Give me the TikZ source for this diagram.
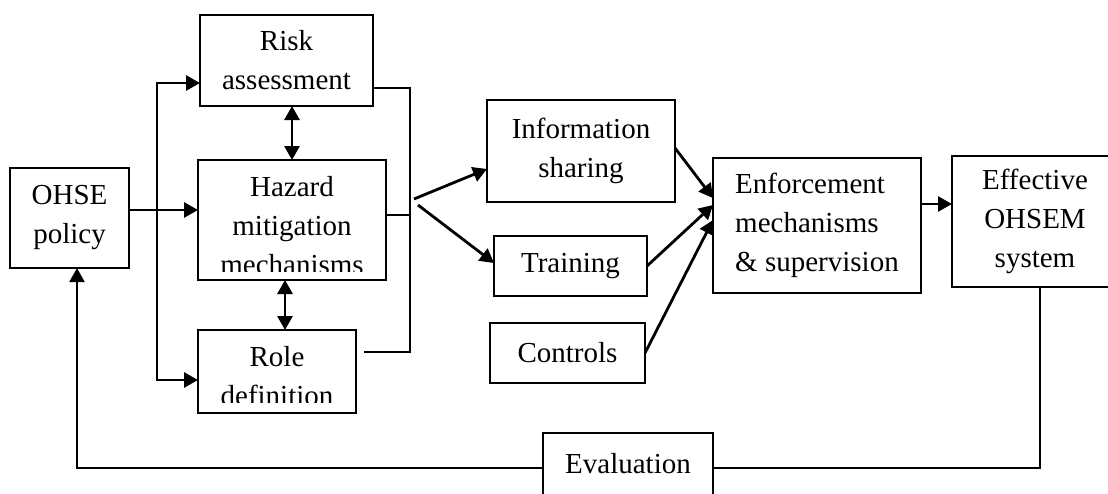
\documentclass[tikz,border=0pt]{standalone}
\usepackage{fontspec}
\setmainfont{Liberation Serif}
\usetikzlibrary{arrows.meta}

\tikzset{
  box/.style={draw, line width=1pt, align=center, inner sep=0pt, outer sep=0pt,
    font=\fontsize{14.5}{19.5}\selectfont},
  link/.style={line width=1pt},
  arr/.style={line width=1.4pt, ->},
  biarr/.style={line width=1.4pt, <->},
}

\begin{document}
\begin{tikzpicture}[x=0.5pt, y=-0.5pt, >={Triangle[length=7pt,width=7.5pt]}]
    \clip (0,0) rectangle (1108,493);
    % left column
    \node[box, minimum width=59.5pt, minimum height=50pt] (pol) at (69.5,218) {OHSE\\policy};
    \node[box, minimum width=86.5pt, minimum height=45.5pt] (risk) at (286.5,60.5) {Risk\\assessment};
    \begin{scope}
      \clip (190,150) rectangle (400,271.5);
      \node[box, draw=none, minimum width=94pt, minimum height=60pt] (haz) at (292,220) {\rule{0pt}{16pt}Hazard\\mitigation\\mechanisms};
    \end{scope}
    \draw[link] (haz.south west) rectangle (haz.north east);
    \begin{scope}
      \clip (190,320) rectangle (370,402);
      \node[box, draw=none, minimum width=79pt, minimum height=41.5pt] (role) at (277,371.5) {\rule{0pt}{15pt}Role\\definition};
    \end{scope}
    \draw[link] (role.south west) rectangle (role.north east);
    % middle column
    \node[box, minimum width=94pt, minimum height=51pt] (info) at (581,151) {Information\\sharing};
    \node[box, minimum width=76.5pt, minimum height=30pt] (train) at (570.5,266) {Training};
    \node[box, minimum width=77.5pt, minimum height=30pt] (ctrl) at (567.5,353) {Controls};
    % right column
    \node[box, align=left, minimum width=104pt, minimum height=67.5pt] (enf) at (817,225.5) {Enforcement\\mechanisms\\\& supervision};
    \node[box, minimum width=83pt, minimum height=65.5pt] (eff) at (1035,221.5) {Effective\\OHSEM\\system};
    \node[box, minimum width=85pt, minimum height=31pt] (eval) at (628,464) {Evaluation};

    % policy to the three tasks
    \draw[arr] (pol.east |- 0,210) -- (haz.west |- 0,210);
    \draw[biarr] (risk.west |- 0,83) -- (157,83) -- (157,380) -- (role.west |- 0,380);
    \draw[biarr] (risk.south -| haz.north) -- (haz.north);
    \draw[biarr] (haz.south -| 285,0) -- (role.north -| 285,0);

    % bracket and split
    \coordinate (rolegap) at ([xshift=4pt]role.east);
    \draw[link] (risk.east |- 0,88) -| (410,352) -- (rolegap |- 0,352);
    \draw[link] (haz.east |- 0,215) -- (410,215);
    \coordinate (outA) at (414,199);
    \coordinate (outB) at (418,205);
    \draw[arr] (outA) -- (info.west |- 0,169);
    \draw[arr] (outB) -- (train.west |- 0,263);

    % into enforcement
    \draw[arr] (info.east |- 0,148) -- (enf.west |- 0,198);
    \draw[arr] (train.east) -- (enf.west |- 0,205);
    \draw[arr] (ctrl.east) -- (enf.west |- 0,220);
    \draw[arr] (enf.east |- 0,204) -- (eff.west |- 0,204);

    % feedback loop
    \draw[link] (eff.south -| 1040,0) |- (eval.east |- 0,468);
    \draw[link, ->] (eval.west |- 0,468) -| ([xshift=3.75pt]pol.south);
\end{tikzpicture}
\end{document}
